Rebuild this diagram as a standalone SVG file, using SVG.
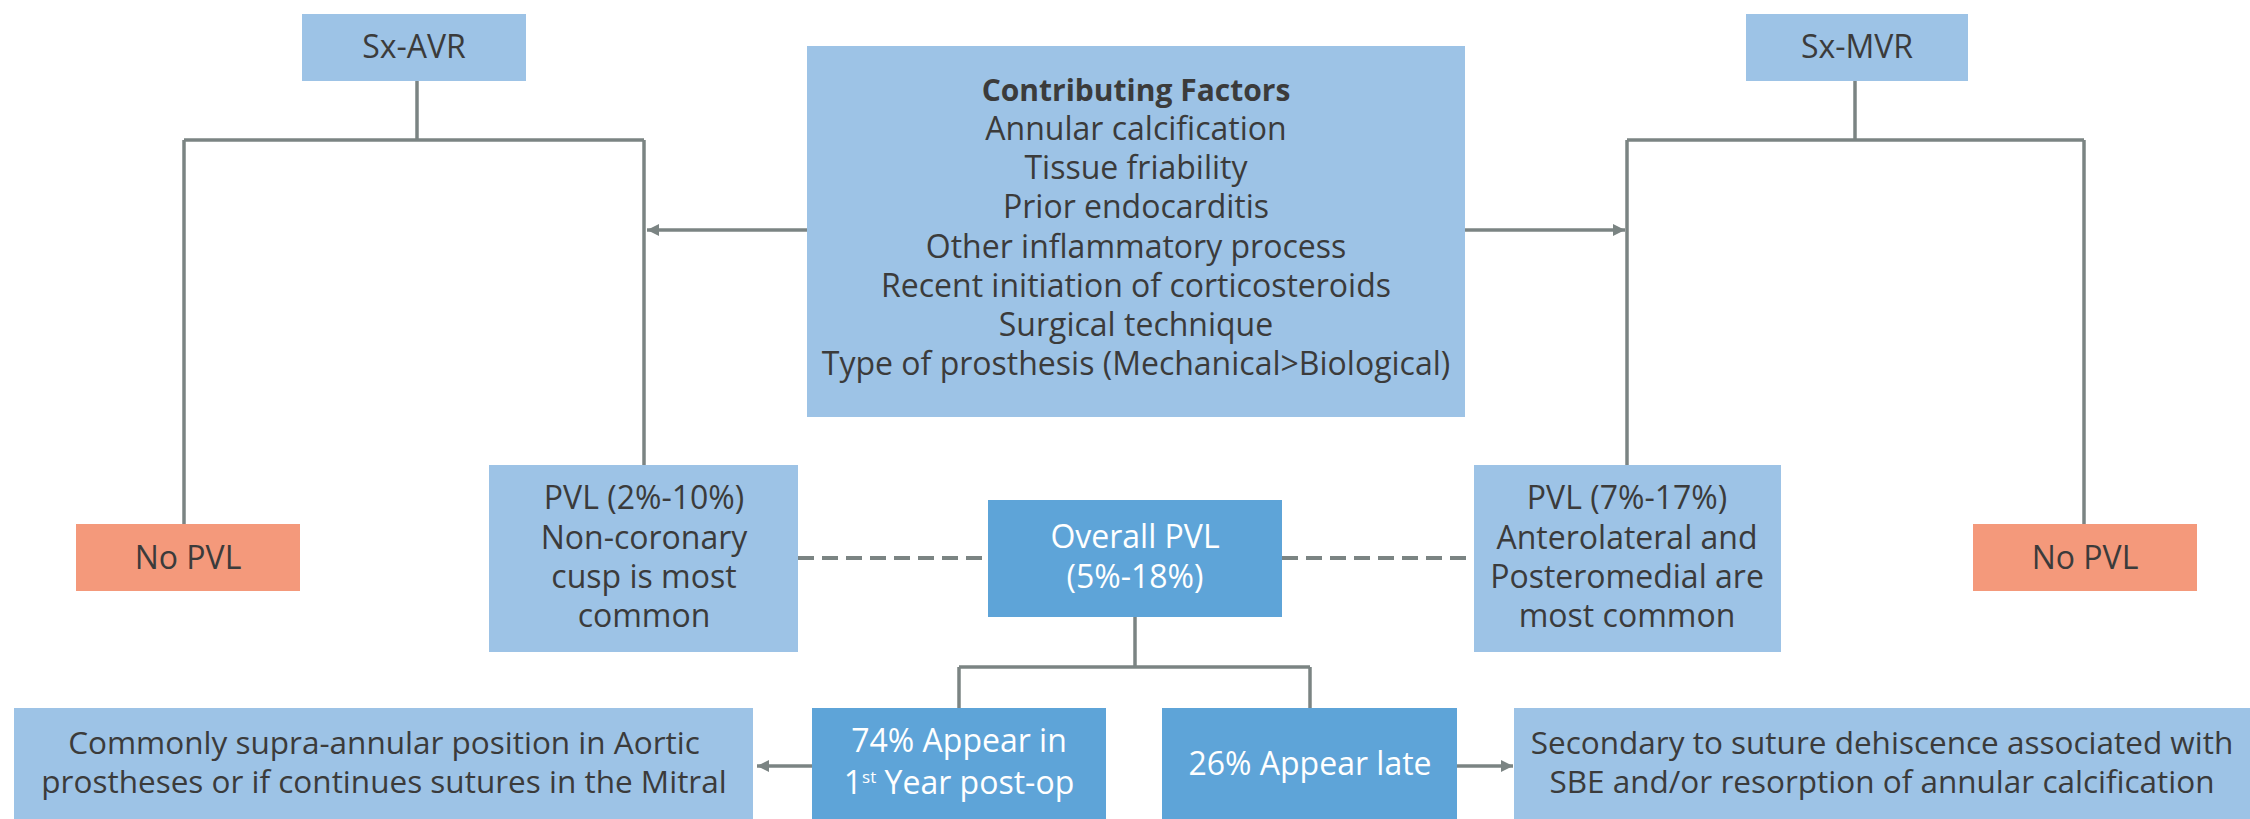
<svg xmlns="http://www.w3.org/2000/svg" width="2250" height="819" viewBox="0 0 2250 819">
  <defs>
    <style>
      .lt { fill: #9dc3e6; }
      .dk { fill: #5ea4d8; }
      .sal { fill: #f4997b; }
      .ln { fill: none; stroke: #7b8483; stroke-width: 3.5; }
      .dash { fill: none; stroke: #7b8483; stroke-width: 4; stroke-dasharray: 16 8; }
      text { font-family: "Open Sans", "Liberation Sans", sans-serif; text-anchor: middle; fill: #3b3b3b; }
      .s30 { font-size: 30px; }
      .s31 { font-size: 31.5px; }
      .s32 { font-size: 32px; }
      .w { fill: #ffffff; }
      .b { font-weight: bold; }
    </style>
    <marker id="ah" markerUnits="userSpaceOnUse" markerWidth="14" markerHeight="12" refX="12" refY="6" orient="auto">
      <path d="M0,0 L12,6 L0,12 Z" fill="#7b8483"/>
    </marker>
  </defs>

  <rect width="2250" height="819" fill="#ffffff"/>

  <!-- connectors -->
  <g id="connectors">
    <!-- Sx-AVR branch -->
    <path class="ln" d="M417,81 V140"/>
    <path class="ln" d="M184,140 H644"/>
    <path class="ln" d="M184,140 V524"/>
    <path class="ln" d="M644,140 V465"/>
    <!-- Sx-MVR branch -->
    <path class="ln" d="M1855,81 V140"/>
    <path class="ln" d="M1627,140 H2084"/>
    <path class="ln" d="M1627,140 V465"/>
    <path class="ln" d="M2084,140 V524"/>
    <!-- contributing factors feed both branches -->
    <path class="ln" d="M807,230 H647" marker-end="url(#ah)"/>
    <path class="ln" d="M1465,230 H1625" marker-end="url(#ah)"/>
    <!-- dashed links to overall PVL -->
    <path class="dash" d="M798,558 H988"/>
    <path class="dash" d="M1282,558 H1474"/>
    <!-- overall PVL split -->
    <path class="ln" d="M1135,617 V667"/>
    <path class="ln" d="M959,667 H1310"/>
    <path class="ln" d="M959,667 V708"/>
    <path class="ln" d="M1310,667 V708"/>
    <!-- timing to mechanism -->
    <path class="ln" d="M812,766 H757" marker-end="url(#ah)"/>
    <path class="ln" d="M1457,766 H1513" marker-end="url(#ah)"/>
  </g>

  <g id="sx-avr">
    <rect class="lt" x="302" y="14" width="224" height="67"/>
    <text class="s32" x="414" y="58">Sx-AVR</text>
  </g>

  <g id="sx-mvr">
    <rect class="lt" x="1746" y="14" width="222" height="67"/>
    <text class="s32" x="1857" y="58">Sx-MVR</text>
  </g>

  <g id="contributing-factors">
    <rect class="lt" x="807" y="46" width="658" height="371"/>
    <text class="s30 b" x="1136" y="101">Contributing Factors</text>
    <text class="s32" x="1136" y="140">Annular calcification</text>
    <text class="s32" x="1136" y="179">Tissue friability</text>
    <text class="s32" x="1136" y="218">Prior endocarditis</text>
    <text class="s32" x="1136" y="258">Other inflammatory process</text>
    <text class="s32" x="1136" y="297">Recent initiation of corticosteroids</text>
    <text class="s32" x="1136" y="336">Surgical technique</text>
    <text class="s32" x="1136" y="375">Type of prosthesis (Mechanical&gt;Biological)</text>
  </g>

  <g id="no-pvl-left">
    <rect class="sal" x="76" y="524" width="224" height="67"/>
    <text class="s32" x="188" y="569">No PVL</text>
  </g>

  <g id="pvl-aortic">
    <rect class="lt" x="489" y="465" width="309" height="187"/>
    <text class="s32" x="644" y="509">PVL (2%-10%)<tspan x="644" dy="40">Non-coronary</tspan><tspan x="644" dy="39">cusp is most</tspan><tspan x="644" dy="39">common</tspan></text>
  </g>

  <g id="overall-pvl">
    <rect class="dk" x="988" y="500" width="294" height="117"/>
    <text class="s32 w" x="1135" y="548">Overall PVL<tspan x="1135" dy="40">(5%-18%)</tspan></text>
  </g>

  <g id="pvl-mitral">
    <rect class="lt" x="1474" y="465" width="307" height="187"/>
    <text class="s32" x="1627" y="509">PVL (7%-17%)<tspan x="1627" dy="40">Anterolateral and</tspan><tspan x="1627" dy="39">Posteromedial are</tspan><tspan x="1627" dy="39">most common</tspan></text>
  </g>

  <g id="no-pvl-right">
    <rect class="sal" x="1973" y="524" width="224" height="67"/>
    <text class="s32" x="2085" y="569">No PVL</text>
  </g>

  <g id="early-mechanism">
    <rect class="lt" x="14" y="708" width="739" height="115"/>
    <text class="s31" x="384" y="754">Commonly supra-annular position in Aortic<tspan x="384" dy="39">prostheses or if continues sutures in the Mitral</tspan></text>
  </g>

  <g id="early-pvl">
    <rect class="dk" x="812" y="708" width="294" height="115"/>
    <text class="s32 w" x="959" y="752">74% Appear in</text>
    <text class="s32 w" x="959" y="794">1<tspan font-size="17" dy="-11">st</tspan><tspan dy="11"> Year post-op</tspan></text>
  </g>

  <g id="late-pvl">
    <rect class="dk" x="1162" y="708" width="295" height="115"/>
    <text class="s32 w" x="1310" y="775">26% Appear late</text>
  </g>

  <g id="late-mechanism">
    <rect class="lt" x="1514" y="708" width="740" height="115"/>
    <text class="s31" x="1882" y="754">Secondary to suture dehiscence associated with<tspan x="1882" dy="39">SBE and/or resorption of annular calcification</tspan></text>
  </g>
</svg>
